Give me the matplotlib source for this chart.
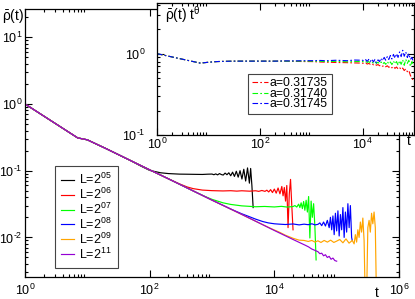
import matplotlib
matplotlib.use('Agg')
import math
import matplotlib.pyplot as plt
from matplotlib.ticker import FixedLocator, NullFormatter, FuncFormatter

plt.rcParams['font.family'] = ['Liberation Sans', 'DejaVu Sans']
plt.rcParams['mathtext.fontset'] = 'custom'
plt.rcParams['mathtext.rm'] = 'Liberation Sans'
plt.rcParams['mathtext.it'] = 'Liberation Sans:italic'
plt.rcParams['mathtext.bf'] = 'Liberation Sans:bold'
plt.rcParams['mathtext.sf'] = 'Liberation Sans'

# ---------------- main panel data ----------------
t_early = [1, 7, 10, 20, 50]
rho_early = [1.0, 0.31, 0.29, 0.214, 0.141]

t_L05 = [70, 100, 150, 200, 300, 400, 500, 700, 850,
         1000, 1072, 1148, 1230, 1318, 1413, 1514, 1622, 1738, 1862, 1995, 2138,
         2291, 2455, 2630, 2818, 3020, 3236, 3467, 3715, 3981, 4169, 4365, 4571]
rho_L05 = [0.119, 0.101, 0.093, 0.0905, 0.0888, 0.0885, 0.0882, 0.0878, 0.0886,
           0.0890, 0.0870, 0.0895, 0.0865, 0.0905, 0.0875, 0.0860, 0.0920, 0.0870, 0.0930, 0.0840, 0.0950,
           0.0820, 0.0980, 0.0800, 0.1000, 0.0750, 0.1050, 0.0700, 0.1100, 0.0650, 0.1080, 0.0600, 0.0280]

t_L06 = [100, 200, 300, 400, 500, 700, 1000, 1500, 2000, 2500, 3000, 4000,
         5012, 5623, 6310, 7079, 7586, 8128, 8710, 9333, 10000, 10715, 11482, 12303,
         13183, 13804, 14454, 15136, 15849, 16596, 17378, 18197, 19055, 19953]
rho_L06 = [0.103, 0.0755, 0.0635, 0.057, 0.0538, 0.0512, 0.0502, 0.0497, 0.0501, 0.0494, 0.0500, 0.0493,
           0.0500, 0.0490, 0.0505, 0.0490, 0.0510, 0.0480, 0.0520, 0.0470, 0.0530, 0.0460, 0.0550, 0.0450,
           0.0580, 0.0420, 0.0560, 0.0350, 0.0600, 0.0140, 0.0450, 0.0740, 0.0300, 0.0130]

t_L07 = [100, 200, 500, 800, 1000, 1500, 2000, 3000, 4000, 5000, 7000, 10000, 13000, 16000, 19953,
         21380, 22909, 24547, 25704, 26915, 28184, 29512, 30903, 32359, 33884, 35481, 37154,
         38905, 40738, 42658, 44668, 46774]
rho_L07 = [0.103, 0.0755, 0.0497, 0.0405, 0.0372, 0.0330, 0.0312, 0.0297, 0.0292, 0.0288, 0.0291, 0.0286,
           0.0292, 0.0285, 0.0290,
           0.0300, 0.0285, 0.0315, 0.0280, 0.0330, 0.0270, 0.0345, 0.0255, 0.0360, 0.0240, 0.0410, 0.0098,
           0.0350, 0.0200, 0.0320, 0.0150, 0.0046]

t_L08 = [100, 200, 500, 1000, 2000, 3000, 4000, 5000, 6500, 8000, 10000, 12000, 15000, 20000, 25000,
         30000, 35000, 40000, 45000, 50119,
         53703, 57544, 61660, 66069, 70795, 75858, 79433, 83176, 87096, 91201, 95499, 100000,
         104713, 109648, 114815, 120226, 125893, 131826, 138038, 144544, 151356, 158489, 165959,
         173780, 177828]
rho_L08 = [0.103, 0.0755, 0.0497, 0.0362, 0.0266, 0.0226, 0.0204, 0.0188, 0.0173, 0.0165, 0.0160, 0.0158,
           0.0156, 0.0159, 0.0154, 0.0158, 0.0155, 0.0160, 0.0154, 0.0157,
           0.0165, 0.0150, 0.0170, 0.0148, 0.0180, 0.0140, 0.0200, 0.0130, 0.0210, 0.0110, 0.0230, 0.0125,
           0.0250, 0.0105, 0.0220, 0.0130, 0.0280, 0.0100, 0.0240, 0.0120, 0.0320, 0.0140, 0.0300,
           0.0100, 0.0090]

t_L09 = [100, 200, 500, 1000, 2000, 5000, 8500, 12000, 15000, 20000, 25000, 30000, 35000, 40000,
         45000, 50000, 56000, 63000, 71000, 80000, 90000, 100000, 112000, 126000, 141000, 158000, 178000,
         190546, 199526, 208930, 218776, 229087, 239883, 251189, 263027, 275423, 288403, 301995,
         316228, 331131, 346737, 363078, 380189, 398107, 416869, 436516, 446684]
rho_L09 = [0.103, 0.0755, 0.0497, 0.0362, 0.0265, 0.0175, 0.0138, 0.0120, 0.0108, 0.0097, 0.0091,
           0.0090, 0.0087, 0.0090, 0.0085, 0.0089, 0.0084, 0.0090, 0.0085, 0.0091, 0.0084, 0.0088,
           0.0093, 0.0083, 0.0095, 0.0082, 0.0090,
           0.0080, 0.0110, 0.0085, 0.0130, 0.0100, 0.0170, 0.0120, 0.0195, 0.0090, 0.0010, 0.0012,
           0.0140, 0.0180, 0.0120, 0.0230, 0.0160, 0.0240, 0.0140, 0.0010, 0.0010]

t_L11 = [100, 200, 500, 1000, 2000, 5000, 10000, 20000, 31623, 35481, 39811, 44668, 50119, 53703,
         57544, 61660, 66069, 70795, 75858, 81283, 87096, 93325, 100000]
rho_L11 = [0.103, 0.0755, 0.0497, 0.0362, 0.0266, 0.0175, 0.0127, 0.0093, 0.0076, 0.0072, 0.0067,
           0.0064, 0.0061, 0.0057, 0.0058, 0.0053, 0.0055, 0.0050, 0.0052, 0.0047, 0.0049, 0.0045, 0.0044]

labels_L = [r'L=2$^{05}$', r'L=2$^{06}$', r'L=2$^{07}$', r'L=2$^{08}$', r'L=2$^{09}$', r'L=2$^{11}$']
colors_L = ['black', '#ff0000', '#00ff00', '#0000ff', '#ffa500', '#9400d3']

# ---------------- inset data ----------------
t_in = [1, 7, 10, 15, 20, 30, 50, 70, 100, 150, 200, 300, 500, 700, 1000, 1500, 2000, 3000, 5000, 7000,
        10000, 10715, 11482, 12303, 13183, 14125, 15136, 16218, 17378, 18621, 19953, 21380, 22909,
        24547, 26303, 28184, 30200, 32359, 34674, 37154, 39811, 42658, 45709, 48978, 52481, 56234,
        60256, 64565, 69183, 74131, 79433, 85114, 91201, 97724]
s_a31735 = [1.0, 0.765, 0.785, 0.80, 0.805, 0.81, 0.81, 0.81, 0.81, 0.81, 0.81, 0.81, 0.805, 0.80, 0.80,
            0.79, 0.785, 0.78, 0.775, 0.77,
            0.765, 0.755, 0.770, 0.745, 0.760, 0.740, 0.755, 0.730, 0.745, 0.720, 0.735, 0.710, 0.725,
            0.700, 0.715, 0.690, 0.710, 0.680, 0.700, 0.670, 0.695, 0.660, 0.685, 0.650, 0.675, 0.640,
            0.665, 0.620, 0.650, 0.600, 0.620, 0.540, 0.500, 0.460]
s_a31740 = [1.0, 0.765, 0.785, 0.80, 0.805, 0.81, 0.81, 0.81, 0.81, 0.81, 0.81, 0.81, 0.81, 0.81, 0.81,
            0.805, 0.80, 0.805, 0.795, 0.80,
            0.800, 0.790, 0.805, 0.780, 0.800, 0.770, 0.790, 0.765, 0.795, 0.760, 0.785, 0.750, 0.790,
            0.745, 0.780, 0.740, 0.800, 0.750, 0.790, 0.735, 0.810, 0.750, 0.800, 0.720, 0.820, 0.740,
            0.840, 0.720, 0.850, 0.760, 0.830, 0.700, 0.800, 0.720]
s_a31745 = [1.0, 0.765, 0.785, 0.80, 0.805, 0.81, 0.81, 0.81, 0.81, 0.81, 0.81, 0.815, 0.815, 0.82, 0.82,
            0.825, 0.82, 0.83, 0.82, 0.835,
            0.830, 0.815, 0.845, 0.805, 0.850, 0.800, 0.860, 0.790, 0.850, 0.770, 0.840, 0.800, 0.880,
            0.820, 0.900, 0.830, 0.920, 0.850, 0.950, 0.860, 0.980, 0.880, 1.000, 0.900, 1.050, 0.920,
            1.100, 0.930, 1.050, 0.900, 1.000, 0.850, 0.900, 0.780]
labels_a = ['a=0.31735', 'a=0.31740', 'a=0.31745']
colors_a = ['#ff0000', '#00ff00', '#0000ff']

FS = 9


def decade_fmt(v, pos):
    e = int(round(math.log10(v)))
    s = str(e) if e >= 0 else r'\text{-}' + str(-e)
    return r'$\mathdefault{10^{%s}}$' % s


fig = plt.figure(figsize=(4.15, 2.99), dpi=100)
W, H = 415.0, 299.0

# ---------------- main axes ----------------
ax = fig.add_axes([25 / W, 1 - 277 / H, 374 / W, 268 / H])
curves = [(t_L05, rho_L05), (t_L06, rho_L06), (t_L07, rho_L07),
          (t_L08, rho_L08), (t_L09, rho_L09), (t_L11, rho_L11)]
for (tt, rr), lab, col in zip(curves, labels_L, colors_L):
    ax.plot(t_early + tt, rho_early + rr, color=col, lw=0.85, label=lab)

ax.set_xscale('log')
ax.set_yscale('log')
ax.set_xlim(1, 1e6)
ax.set_ylim(0.00255, 26.5)
ax.xaxis.set_major_locator(FixedLocator([1, 1e2, 1e4, 1e6]))
ax.xaxis.set_minor_locator(FixedLocator([m * 10.0 ** k for k in (0, 2, 4) for m in range(2, 10)]))
ax.xaxis.set_major_formatter(FuncFormatter(decade_fmt))
ax.xaxis.set_minor_formatter(NullFormatter())
ax.yaxis.set_major_locator(FixedLocator([1e-2, 1e-1, 1, 10]))
ax.yaxis.set_minor_locator(FixedLocator([m * 10.0 ** k for k in (-3, -2, -1, 0, 1) for m in range(2, 10)]))
ax.yaxis.set_major_formatter(FuncFormatter(decade_fmt))
ax.yaxis.set_minor_formatter(NullFormatter())
ax.tick_params(which='both', direction='in', top=True, right=True, labelsize=FS, width=0.8)
ax.tick_params(which='major', length=5)
ax.tick_params(which='minor', length=2.5)
ax.tick_params(axis='x', pad=4)
ax.tick_params(axis='y', pad=2)
for s in ax.spines.values():
    s.set_linewidth(0.9)

leg = ax.legend(loc='lower left', bbox_to_anchor=(30 / 374, 9 / 268), fontsize=FS,
                frameon=True, fancybox=False, edgecolor='#444444', framealpha=1,
                handlelength=1.0, handletextpad=0.45, labelspacing=-0.02, borderpad=0.5,
                borderaxespad=0)
leg.get_frame().set_linewidth(0.8)

# ---------------- inset ----------------
axin = fig.add_axes([157 / W, 1 - 135 / H, 257 / W, 132 / H])
for s_vals, lab, col in zip([s_a31735, s_a31740, s_a31745], labels_a, colors_a):
    axin.plot(t_in, s_vals, color=col, lw=0.8, ls=(0, (5, 2, 1.5, 2)), label=lab)
axin.set_xscale('log')
axin.set_yscale('log')
axin.set_xlim(1, 1e5)
axin.set_ylim(0.1, 4.2)
axin.xaxis.set_major_locator(FixedLocator([1, 1e2, 1e4]))
axin.xaxis.set_minor_locator(FixedLocator([m * 10.0 ** k for k in (0, 2, 4) for m in range(2, 10)]))
axin.xaxis.set_major_formatter(FuncFormatter(decade_fmt))
axin.xaxis.set_minor_formatter(NullFormatter())
axin.yaxis.set_major_locator(FixedLocator([0.1, 1]))
axin.yaxis.set_minor_locator(FixedLocator([m * 10.0 ** k for k in (-1, 0) for m in range(2, 10)]))
axin.yaxis.set_major_formatter(FuncFormatter(decade_fmt))
axin.yaxis.set_minor_formatter(NullFormatter())
axin.tick_params(which='both', direction='in', top=True, right=True, labelsize=FS, width=0.8)
axin.tick_params(which='major', length=5)
axin.tick_params(which='minor', length=2.5)
axin.tick_params(axis='x', pad=1)
axin.tick_params(axis='y', pad=8)
for s in axin.spines.values():
    s.set_linewidth(0.9)

leg2 = axin.legend(loc='lower left', bbox_to_anchor=(91 / 257, 21 / 132), fontsize=8.8,
                   frameon=True, fancybox=False, edgecolor='#444444', framealpha=1,
                   handlelength=1.3, handletextpad=0.2, labelspacing=-0.12, borderpad=0.3,
                   borderaxespad=0)
leg2.get_frame().set_linewidth(0.8)

# ---------------- axis labels ----------------
fig.text(2 / W, 1 - 16 / H, r'$\bar{\mathrm{\rho}}$(t)', ha='left', va='center', fontsize=FS + 1)
fig.text(165 / W, 1 - 15 / H, r'$\bar{\mathrm{\rho}}$(t) t$^{\mathrm{\theta}}$', ha='left', va='center',
         fontsize=FS + 1)
fig.text(377 / W, 1 - 293 / H, 't', ha='center', va='center', fontsize=FS + 1)
fig.text(409 / W, 1 - 141 / H, 't', ha='center', va='center', fontsize=FS + 1)

fig.savefig('out.png', dpi=100)
